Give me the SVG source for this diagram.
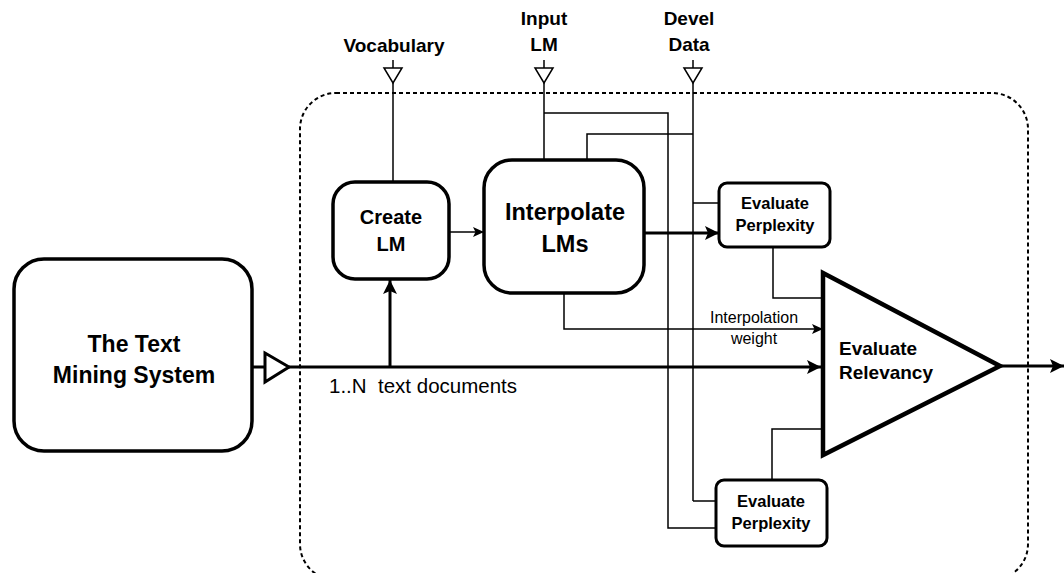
<svg xmlns="http://www.w3.org/2000/svg" width="1064" height="573" viewBox="0 0 1064 573">
<style>
.box{fill:#fff;stroke:#000;stroke-width:3.5}
.ep{fill:#fff;stroke:#000;stroke-width:3}
.thin{fill:none;stroke:#000;stroke-width:1.5}
.thick{fill:none;stroke:#000;stroke-width:3}
.b{font-family:"Liberation Sans",Arial,sans-serif;font-weight:bold;text-anchor:middle;fill:#000}
.bs{font-family:"Liberation Sans",Arial,sans-serif;font-weight:bold;text-anchor:start;fill:#000}
.r{font-family:"Liberation Sans",Arial,sans-serif;fill:#000}
</style>
<defs>
<marker id="ah" markerUnits="userSpaceOnUse" markerWidth="20" markerHeight="20" viewBox="0 0 20 20" refX="16" refY="10" orient="auto">
<path d="M2,3 L16,10 L2,17 L5,10 Z" fill="#000"/>
</marker>
<marker id="ahs" markerUnits="userSpaceOnUse" markerWidth="14" markerHeight="14" viewBox="0 0 14 14" refX="12" refY="7" orient="auto">
<path d="M1,2 L12,7 L1,12 L3.5,7 Z" fill="#000"/>
</marker>
</defs>

<rect id="container" x="300" y="93" width="728" height="487" rx="36" fill="none" stroke="#000" stroke-width="2" stroke-dasharray="4,3"/>

<g id="connectors">
<line class="thin" x1="393" y1="60" x2="393" y2="182"/>
<polygon points="384,68 402,68 393,83" fill="#fff" stroke="#000" stroke-width="1.5"/>
<line class="thin" x1="544" y1="60" x2="544" y2="160"/>
<polygon points="535,68 553,68 544,83" fill="#fff" stroke="#000" stroke-width="1.5"/>
<line class="thin" x1="693" y1="60" x2="693" y2="501"/>
<polygon points="684,68 702,68 693,83" fill="#fff" stroke="#000" stroke-width="1.5"/>
<polyline class="thin" points="544,113 668,113 668,528 716,528"/>
<polyline class="thin" points="693,501 716,501"/>
<polyline class="thin" points="693,134 587,134 587,160"/>
<polyline class="thin" points="693,203 719,203"/>
<line class="thin" x1="449" y1="232" x2="484" y2="232" marker-end="url(#ahs)"/>
<line class="thick" x1="645" y1="233" x2="719" y2="233" marker-end="url(#ah)"/>
<polyline class="thin" points="773,247 773,298 823,298"/>
<polyline class="thin" points="564,294 564,329 823,329" marker-end="url(#ahs)"/>
<polyline class="thin" points="823,429 772,429 772,480"/>
<line class="thick" x1="252" y1="367" x2="265" y2="367"/>
<polygon points="265,353 289,367 265,382" fill="#fff" stroke="#000" stroke-width="3"/>
<line class="thick" x1="289" y1="367" x2="821" y2="367" marker-end="url(#ah)"/>
<line class="thick" x1="390" y1="367" x2="390" y2="280" marker-end="url(#ah)"/>
<line class="thick" x1="1000" y1="366" x2="1064" y2="366" marker-end="url(#ah)"/>
</g>

<g id="labels">
<text class="b" x="394" y="52" font-size="19">Vocabulary</text>
<text class="b" x="544" y="25" font-size="19">Input</text>
<text class="b" x="544" y="51" font-size="19">LM</text>
<text class="b" x="689" y="25" font-size="19">Devel</text>
<text class="b" x="689" y="51" font-size="19">Data</text>
<text class="r" x="754" y="323" font-size="16" text-anchor="middle">Interpolation</text>
<text class="r" x="754" y="344" font-size="16" text-anchor="middle">weight</text>
<text class="r" x="329" y="393" font-size="20.5" xml:space="preserve">1..N  text documents</text>
</g>

<g id="text-mining-system">
<rect class="box" x="14" y="259" width="238" height="192" rx="30"/>
<text class="b" x="134" y="352" font-size="23">The Text</text>
<text class="b" x="134" y="383" font-size="23">Mining System</text>
</g>

<g id="create-lm">
<rect class="box" x="333" y="182" width="116" height="97" rx="22"/>
<text class="b" x="391" y="224" font-size="20">Create</text>
<text class="b" x="391" y="251" font-size="20">LM</text>
</g>

<g id="interpolate-lms">
<rect class="box" x="484" y="160" width="160" height="133" rx="28"/>
<text class="b" x="565" y="220" font-size="23.5">Interpolate</text>
<text class="b" x="565" y="252" font-size="23.5">LMs</text>
</g>

<g id="evaluate-perplexity-1">
<rect class="ep" x="719" y="183" width="111" height="64" rx="8"/>
<text class="b" x="775" y="209" font-size="16.5">Evaluate</text>
<text class="b" x="775" y="231" font-size="16.5">Perplexity</text>
</g>

<g id="evaluate-perplexity-2">
<rect class="ep" x="716" y="480" width="111" height="66" rx="8"/>
<text class="b" x="771" y="507" font-size="16.5">Evaluate</text>
<text class="b" x="771" y="529" font-size="16.5">Perplexity</text>
</g>

<g id="evaluate-relevancy">
<polygon points="823,273 823,455 1000,366" fill="#fff" stroke="#000" stroke-width="4.5" stroke-linejoin="miter"/>
<text class="bs" x="839" y="355" font-size="19">Evaluate</text>
<text class="bs" x="839" y="379" font-size="19">Relevancy</text>
</g>
</svg>
